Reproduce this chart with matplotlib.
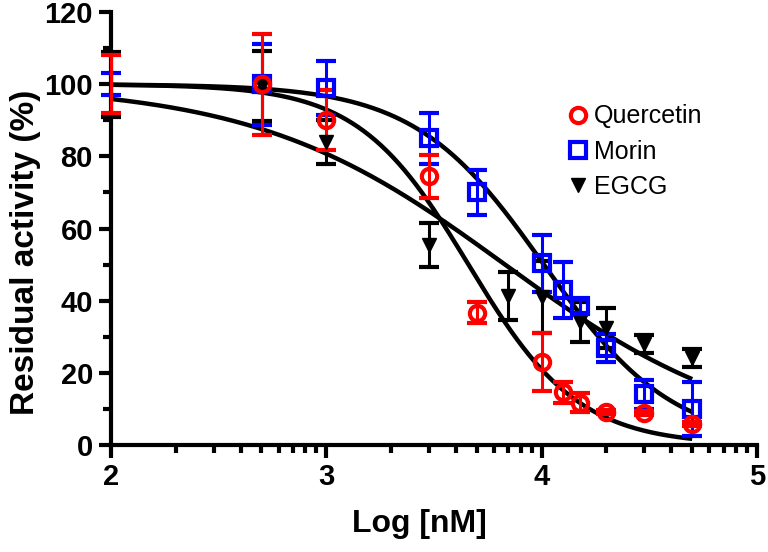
import numpy as np
import matplotlib
matplotlib.use("Agg")
import matplotlib.pyplot as plt
from matplotlib.ticker import FixedLocator, MultipleLocator
from matplotlib.lines import Line2D

# log10 of concentration (nM)
x_q = [2, 2.699, 3, 3.477, 3.699, 4, 4.097, 4.176, 4.301, 4.477, 4.699]
y_q = [100, 100, 90, 74.5, 36.7, 23, 14.6, 11.7, 9.2, 8.9, 5.8]
e_q = [8, 14, 8.3, 6, 3, 8, 2.9, 2.6, 0.5, 0.5, 0.5]

x_m = [2, 2.699, 3, 3.477, 3.699, 4, 4.097, 4.176, 4.301, 4.477, 4.699]
y_m = [100, 100, 99, 85, 70, 50.4, 43, 38.5, 26.9, 14, 10]
e_m = [3, 11.3, 7.5, 7, 6.2, 7.9, 7.7, 2, 3.8, 4, 7.5]

x_e = [2, 2.699, 3, 3.477, 3.845, 4, 4.176, 4.301, 4.477, 4.699]
y_e = [100, 99.5, 84, 55.4, 41.3, 41, 34, 32.5, 28, 24]
e_e = [9, 9.7, 6, 6.1, 6.7, 10, 5.5, 5.5, 2.5, 2.5]

# 4PL fit parameters (top, bottom, logIC50, hill)
fit_q = (100, 0, 3.66, 1.7)
fit_m = (100, 0, 4.01, 1.45)
fit_e = (100, 0, 3.83, 0.75)


def logistic(x, top, bottom, c, h):
    return bottom + (top - bottom) / (1 + 10 ** ((x - c) * h))


plt.rcParams['font.family'] = ['Liberation Sans', 'DejaVu Sans']

fig = plt.figure(figsize=(7.68, 5.52), dpi=100)
ax = fig.add_axes([0.1445, 0.194, 0.8412, 0.784])

xs = np.linspace(2, 4.699, 300)
for p in (fit_q, fit_m, fit_e):
    ax.plot(xs, logistic(xs, *p), color='black', lw=3.2, zorder=3, solid_capstyle='butt')

eb = dict(elinewidth=2.2, capsize=7, capthick=3, linestyle='none', zorder=4, clip_on=False)
lines = []
lines.append(ax.errorbar(x_e, y_e, yerr=e_e, fmt='v', color='black', ms=10, mfc='black', mec='black', **eb))
lines.append(ax.errorbar(x_m, y_m, yerr=e_m, fmt='s', color='#0000ff', ms=11, mfc='none', mec='#0000ff', mew=3, **eb))
lines.append(ax.errorbar(x_q, y_q, yerr=e_q, fmt='o', color='#ff0000', ms=11, mfc='none', mec='#ff0000', mew=3, **eb))
# markers sitting on the y axis are hidden in the original
for c in lines:
    c[0].set_markevery(slice(1, None))

handles = [
    Line2D([], [], marker='o', ls='none', ms=11, mfc='none', mec='#ff0000', mew=3),
    Line2D([], [], marker='s', ls='none', ms=11, mfc='none', mec='#0000ff', mew=3),
    Line2D([], [], marker='v', ls='none', ms=10, mfc='black', mec='black'),
]
ax.legend(handles, ["Quercetin", "Morin", "EGCG"], loc='upper left', bbox_to_anchor=(0.688, 0.81),
          frameon=False, fontsize=18, handletextpad=0.15, labelspacing=0.45, handlelength=1.0,
          borderaxespad=0)

ax.set_xlim(2, 5)
ax.set_ylim(0, 120)
ax.set_xticks([2, 3, 4, 5])
minor = [d + np.log10(k) for d in (2, 3, 4) for k in range(2, 10)]
ax.xaxis.set_minor_locator(FixedLocator(minor))
ax.yaxis.set_major_locator(MultipleLocator(20))
ax.yaxis.set_minor_locator(MultipleLocator(10))

for s in ('top', 'right'):
    ax.spines[s].set_visible(False)
for s in ('left', 'bottom'):
    ax.spines[s].set_linewidth(3)
ax.tick_params(which='major', length=9, width=3, direction='out')
ax.tick_params(which='minor', length=6, width=3, direction='out')
ax.tick_params(axis='both', labelsize=21, pad=4)
for lab in ax.get_xticklabels() + ax.get_yticklabels():
    lab.set_fontweight('bold')

ax.set_xlabel("Log [nM]", fontsize=23, fontweight='bold')
ax.set_ylabel("Residual activity (%)", fontsize=24, fontweight='bold')
ax.xaxis.set_label_coords(0.478, -0.148)
ax.yaxis.set_label_coords(-0.108, 0.446)

fig.savefig("out.png", dpi=100)
